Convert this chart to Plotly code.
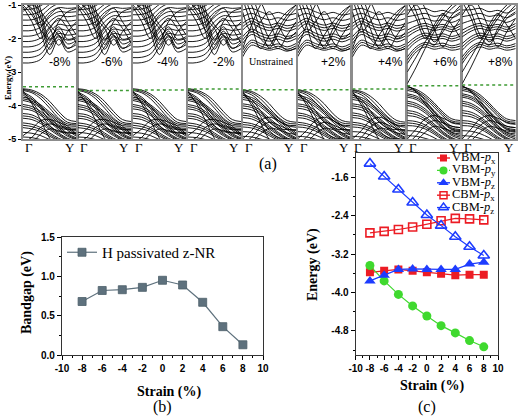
import plotly.graph_objects as go

W, H = 520, 416

# ---------------- data: panel (a) band structures ----------------
strain_labels = ["-8%", "-6%", "-4%", "-2%", "Unstrained", "+2%", "+4%", "+6%", "+8%"]
vbm_levels = [-3.44, -3.55, -3.54, -3.51, -3.53, -3.53, -3.51, -3.41, -3.39]
panel_group = ["A", "A", "A", "A", "B", "B", "B", "C", "C"]
k_points = [0, 1/6, 2/6, 3/6, 4/6, 5/6, 1]

cb_A = [
    [-2.73, -2.72, -2.62, -2.25, -1.95, -2.05, -2.00],
    [-2.57, -2.56, -2.46, -2.10, -1.85, -1.90, -1.86],
    [-2.41, -2.40, -2.30, -1.95, -1.72, -1.76, -1.72],
    [-2.25, -2.24, -2.14, -1.80, -1.58, -1.62, -1.58],
    [-2.09, -2.08, -1.98, -1.65, -1.45, -1.48, -1.45],
    [-1.93, -1.92, -1.82, -1.50, -1.32, -1.35, -1.32],
    [-1.77, -1.76, -1.66, -1.36, -1.20, -1.22, -1.20],
    [-1.61, -1.60, -1.50, -1.22, -1.08, -1.10, -1.08],
    [-1.45, -1.44, -1.34, -1.10, -0.96, -0.98, -0.96],
    [-1.29, -1.28, -1.18, -0.98, -0.85, -0.87, -0.85],
    [-1.13, -1.12, -1.02, -0.86, -0.75, -0.76, -0.75],
    [-0.40, -0.90, -1.80, -2.48, -2.02, -2.40, -2.30],
    [-0.30, -0.70, -1.55, -2.32, -1.90, -2.28, -2.18],
    [-0.20, -0.55, -1.35, -2.18, -1.78, -2.16, -2.06],
    [-0.10, -0.40, -1.15, -2.02, -1.65, -2.02, -1.94],
    [-1.00, -1.30, -1.75, -2.05, -1.50, -1.20, -1.10],
    [-0.90, -1.10, -1.40, -1.70, -2.20, -1.80, -1.50],
    [-1.20, -1.00, -1.20, -1.60, -1.90, -2.30, -2.10],
    [-0.80, -1.20, -1.60, -1.30, -1.10, -1.50, -1.90],
    [-1.05, -1.50, -2.00, -1.70, -1.40, -1.70, -2.15],
]
vb_A = [
    [-3.50, -3.54, -3.66, -3.88, -4.18, -4.42, -4.48],
    [-3.52, -3.58, -3.72, -3.98, -4.28, -4.50, -4.54],
    [-3.55, -3.62, -3.80, -4.08, -4.38, -4.55, -4.58],
    [-3.60, -3.75, -4.02, -4.35, -4.58, -4.66, -4.68],
    [-3.64, -3.80, -4.10, -4.45, -4.66, -4.72, -4.74],
    [-3.56, -3.95, -4.45, -4.98, -5.30, -5.40, -5.40],
    [-3.68, -3.90, -4.25, -4.60, -4.78, -4.80, -4.80],
    [-3.75, -3.82, -3.98, -4.20, -4.42, -4.62, -4.85],
    [-3.80, -3.87, -4.03, -4.25, -4.47, -4.68, -4.88],
    [-3.85, -3.92, -4.08, -4.30, -4.52, -4.74, -4.92],
    [-3.97, -4.03, -4.18, -4.40, -4.62, -4.84, -4.97],
    [-4.03, -4.09, -4.24, -4.45, -4.67, -4.88, -5.00],
    [-4.10, -4.15, -4.30, -4.50, -4.72, -4.92, -5.02],
    [-4.24, -4.28, -4.42, -4.62, -4.82, -4.98, -5.06],
    [-4.31, -4.35, -4.48, -4.67, -4.86, -5.01, -5.08],
    [-4.38, -4.42, -4.54, -4.72, -4.90, -5.04, -5.10],
    [-4.52, -4.56, -4.66, -4.82, -4.98, -5.08, -5.12],
    [-4.59, -4.63, -4.72, -4.87, -5.02, -5.10, -5.14],
    [-4.66, -4.70, -4.78, -4.92, -5.05, -5.12, -5.15],
    [-4.80, -4.83, -4.90, -5.02, -5.12, -5.16, -5.18],
    [-4.94, -4.96, -5.02, -5.10, -5.16, -5.20, -5.20],
    [-4.90, -4.70, -4.45, -4.42, -4.50, -4.60, -4.62],
    [-5.10, -4.95, -4.65, -4.55, -4.62, -4.70, -4.72],
    [-5.20, -5.10, -4.85, -4.70, -4.75, -4.82, -4.84],
]
cb_B = [
    [-2.55, -2.20, -2.28, -2.35, -2.30, -2.38, -2.28],
    [-2.45, -2.12, -2.22, -2.30, -2.23, -2.32, -2.22],
    [-2.35, -2.05, -2.15, -2.22, -2.16, -2.25, -2.15],
    [-2.15, -1.88, -2.00, -2.08, -2.02, -2.10, -2.00],
    [-2.05, -1.80, -1.92, -2.00, -1.94, -2.02, -1.92],
    [-1.95, -1.72, -1.84, -1.92, -1.86, -1.94, -1.85],
    [-1.75, -1.56, -1.68, -1.76, -1.70, -1.78, -1.70],
    [-1.65, -1.48, -1.60, -1.68, -1.62, -1.70, -1.62],
    [-1.55, -1.40, -1.52, -1.60, -1.54, -1.62, -1.55],
    [-1.35, -1.25, -1.36, -1.44, -1.38, -1.46, -1.40],
    [-1.15, -1.10, -1.20, -1.28, -1.22, -1.30, -1.25],
    [-2.30, -1.60, -1.00, -0.60, -0.40, -0.30, -0.20],
    [-0.50, -1.00, -1.70, -2.28, -1.85, -1.40, -1.10],
    [-0.30, -0.70, -1.40, -2.00, -2.30, -1.90, -1.50],
    [-0.80, -1.60, -2.30, -1.90, -1.50, -1.20, -1.00],
    [-1.00, -0.60, -0.90, -1.50, -2.10, -2.35, -2.30],
    [-0.60, -1.30, -2.00, -2.20, -1.70, -1.30, -1.00],
    [-1.20, -1.80, -1.50, -1.20, -1.60, -2.00, -1.80],
]
vb_B = [
    [-3.53, -3.58, -3.72, -3.95, -4.25, -4.45, -4.50],
    [-3.55, -3.62, -3.80, -4.08, -4.35, -4.52, -4.55],
    [-3.58, -3.68, -3.90, -4.20, -4.45, -4.58, -4.60],
    [-3.62, -3.82, -4.15, -4.50, -4.68, -4.72, -4.72],
    [-3.66, -3.90, -4.32, -4.75, -4.95, -5.00, -5.00],
    [-3.58, -3.98, -4.50, -5.02, -5.30, -5.40, -5.40],
    [-3.70, -3.76, -3.92, -4.15, -4.38, -4.60, -4.82],
    [-3.76, -3.82, -3.98, -4.20, -4.44, -4.66, -4.86],
    [-3.82, -3.88, -4.04, -4.26, -4.50, -4.72, -4.90],
    [-3.95, -4.00, -4.15, -4.38, -4.60, -4.82, -4.96],
    [-4.01, -4.06, -4.21, -4.43, -4.65, -4.86, -4.99],
    [-4.08, -4.13, -4.27, -4.48, -4.70, -4.90, -5.02],
    [-4.22, -4.27, -4.40, -4.60, -4.80, -4.97, -5.06],
    [-4.29, -4.33, -4.46, -4.65, -4.84, -5.00, -5.08],
    [-4.36, -4.40, -4.52, -4.70, -4.88, -5.03, -5.10],
    [-4.50, -4.54, -4.64, -4.80, -4.96, -5.08, -5.12],
    [-4.57, -4.60, -4.70, -4.85, -5.00, -5.10, -5.14],
    [-4.64, -4.67, -4.76, -4.90, -5.04, -5.12, -5.15],
    [-4.78, -4.80, -4.88, -5.00, -5.10, -5.16, -5.18],
    [-4.92, -4.94, -5.00, -5.08, -5.15, -5.20, -5.20],
    [-5.00, -4.75, -4.45, -4.35, -4.45, -4.60, -4.65],
    [-5.15, -4.95, -4.65, -4.50, -4.58, -4.70, -4.75],
    [-5.25, -5.10, -4.85, -4.68, -4.72, -4.82, -4.86],
]
cb_C = [
    [-3.35, -2.85, -2.30, -1.80, -1.40, -1.10, -0.90],
    [-3.00, -2.55, -2.10, -1.70, -1.30, -1.00, -0.80],
    [-2.75, -2.40, -2.25, -2.32, -2.28, -2.35, -2.30],
    [-2.65, -2.32, -2.18, -2.25, -2.21, -2.28, -2.22],
    [-2.55, -2.25, -2.12, -2.18, -2.14, -2.22, -2.15],
    [-2.35, -2.10, -1.98, -2.04, -2.00, -2.08, -2.00],
    [-2.25, -2.02, -1.91, -1.97, -1.93, -2.01, -1.92],
    [-2.15, -1.94, -1.84, -1.90, -1.86, -1.94, -1.85],
    [-1.95, -1.78, -1.70, -1.76, -1.72, -1.80, -1.70],
    [-1.85, -1.70, -1.62, -1.69, -1.65, -1.73, -1.62],
    [-1.75, -1.62, -1.55, -1.62, -1.58, -1.66, -1.55],
    [-1.55, -1.46, -1.40, -1.48, -1.44, -1.52, -1.40],
    [-1.35, -1.30, -1.25, -1.34, -1.30, -1.38, -1.25],
    [-1.15, -1.14, -1.10, -1.20, -1.16, -1.24, -1.10],
    [-0.60, -1.20, -1.90, -2.20, -1.70, -1.30, -1.00],
    [-1.00, -0.70, -1.10, -1.70, -2.25, -1.80, -1.40],
    [-0.90, -1.40, -2.00, -1.60, -1.25, -1.60, -2.00],
    [-1.30, -1.00, -1.50, -2.10, -1.80, -1.40, -1.20],
]
vb_C = [
    [-3.40, -3.60, -3.95, -4.30, -4.60, -4.80, -4.85],
    [-3.42, -3.56, -3.85, -4.18, -4.48, -4.70, -4.75],
    [-3.45, -3.52, -3.68, -3.92, -4.20, -4.40, -4.45],
    [-3.50, -3.57, -3.74, -3.98, -4.26, -4.46, -4.50],
    [-3.55, -3.62, -3.80, -4.05, -4.32, -4.52, -4.56],
    [-3.65, -3.72, -3.90, -4.15, -4.42, -4.62, -4.66],
    [-3.70, -3.77, -3.95, -4.20, -4.47, -4.67, -4.72],
    [-3.75, -3.82, -4.00, -4.25, -4.52, -4.72, -4.78],
    [-3.87, -3.94, -4.10, -4.35, -4.62, -4.82, -4.90],
    [-3.93, -4.00, -4.16, -4.40, -4.66, -4.86, -4.95],
    [-4.00, -4.06, -4.22, -4.45, -4.70, -4.90, -5.00],
    [-4.15, -4.20, -4.34, -4.55, -4.78, -4.96, -5.06],
    [-4.22, -4.27, -4.40, -4.60, -4.82, -4.99, -5.08],
    [-4.30, -4.34, -4.46, -4.65, -4.86, -5.02, -5.10],
    [-4.45, -4.48, -4.58, -4.75, -4.94, -5.08, -5.12],
    [-4.52, -4.55, -4.64, -4.80, -4.98, -5.10, -5.14],
    [-4.60, -4.62, -4.70, -4.85, -5.02, -5.12, -5.15],
    [-4.75, -4.77, -4.84, -4.96, -5.10, -5.16, -5.18],
    [-4.90, -4.92, -4.98, -5.06, -5.15, -5.20, -5.20],
    [-5.00, -4.70, -4.40, -4.30, -4.38, -4.50, -4.55],
    [-5.15, -4.90, -4.60, -4.45, -4.52, -4.62, -4.66],
    [-5.25, -5.05, -4.80, -4.62, -4.68, -4.76, -4.80],
]
band_sets = {"A": cb_A + vb_A, "B": cb_B + vb_B, "C": cb_C + vb_C}
kpath_labels = ["Γ", "Y"]
energy_ticks = [-1, -2, -3, -4, -5]

# ---------------- data: panel (b) ----------------
strain = [-8, -6, -4, -2, 0, 2, 4, 6, 8]
bandgap = [0.68, 0.82, 0.83, 0.86, 0.95, 0.89, 0.67, 0.36, 0.13]
strain_ticks = [-10, -8, -6, -4, -2, 0, 2, 4, 6, 8, 10]
bandgap_ticks = [0.0, 0.5, 1.0, 1.5]

# ---------------- data: panel (c) ----------------
vbm_px = [-3.58, -3.55, -3.52, -3.55, -3.58, -3.61, -3.64, -3.63, -3.63]
vbm_py = [-3.44, -3.76, -4.04, -4.28, -4.49, -4.69, -4.84, -5.00, -5.13]
vbm_pz = [-3.76, -3.64, -3.52, -3.51, -3.52, -3.52, -3.52, -3.41, -3.37]
cbm_px = [-2.76, -2.73, -2.69, -2.64, -2.58, -2.51, -2.46, -2.47, -2.49]
cbm_pz = [-1.32, -1.59, -1.86, -2.13, -2.39, -2.61, -2.84, -3.05, -3.23]
energy_c_ticks = [-1.6, -2.4, -3.2, -4.0, -4.8]
series_names = ["VBM-<i>p</i><sub>x</sub>", "VBM-<i>p</i><sub>y</sub>", "VBM-<i>p</i><sub>z</sub>",
                "CBM-<i>p</i><sub>x</sub>", "CBM-<i>p</i><sub>z</sub>"]

# ---------------- styles / layout helpers ----------------
RED, GREEN, BLUE = "#ec1c24", "#3fd92e", "#1d3cff"
series_styles = [
    dict(color=RED, symbol="square", size=8, dash="solid"),
    dict(color=GREEN, symbol="circle", size=9, dash="dot"),
    dict(color=BLUE, symbol="triangle-up", size=10, dash="solid"),
    dict(color=RED, symbol="square-open", size=8, dash="solid"),
    dict(color=BLUE, symbol="triangle-up-open", size=10, dash="solid"),
]
SERIF = "Liberation Serif"
SANS = "Liberation Sans"


def px(x):
    return x / W


def py(y):
    return 1 - y / H


def labels(vals, fmt="{:g}"):
    return [fmt.format(v) for v in vals]


def paper_text(x, y, text, size, family=SERIF, angle=0):
    return dict(x=px(x), y=py(y), xref="paper", yref="paper", text=text, textangle=angle,
                showarrow=False, xanchor="center", yanchor="middle",
                font=dict(family=family, size=size, color="black"))


fig = go.Figure()
layout = dict(template="none", width=W, height=H, margin=dict(l=0, r=0, t=0, b=0, pad=0),
              paper_bgcolor="white", plot_bgcolor="rgba(0,0,0,0)", showlegend=True)
annotations = []

# ---- panel (a) ----
label_pos = [0.70, 0.63, 0.65, 0.67, 0.54, 0.68, 0.71, 0.71, 0.72]
for i in range(9):
    n = i + 1
    xa, ya = f"x{n}", f"y{n}"
    left = 23 + i * 54.9
    right = left + 53.5
    for band in band_sets[panel_group[i]]:
        fig.add_trace(go.Scatter(x=k_points, y=band, mode="lines", xaxis=xa, yaxis=ya,
                                 line=dict(color="black", width=0.9, shape="spline", smoothing=1.0),
                                 showlegend=False, hoverinfo="skip"))
    fig.add_trace(go.Scatter(x=[k_points[0], k_points[-1]], y=[vbm_levels[i], vbm_levels[i]],
                             mode="lines", xaxis=xa, yaxis=ya,
                             line=dict(color="#3f9b35", width=1.5, dash="dot"),
                             showlegend=False, hoverinfo="skip"))
    layout[f"xaxis{n}"] = dict(domain=[px(left), px(right)], range=[0, 1], anchor=ya,
                               showticklabels=False, ticks="", showgrid=False, zeroline=False,
                               automargin=False,
                               showline=True, mirror=True, linecolor="#8c8c8c", linewidth=2)
    layout[f"yaxis{n}"] = dict(domain=[py(139), py(5)], range=[-5, -1], anchor=xa,
                               showgrid=False, zeroline=False, automargin=False,
                               showline=True, mirror=True, linecolor="#8c8c8c", linewidth=2,
                               tickmode="array",
                               tickvals=energy_ticks if i == 0 else [],
                               ticktext=labels(energy_ticks) if i == 0 else [],
                               showticklabels=(i == 0), ticks="outside" if i == 0 else "",
                               ticklen=3, tickcolor="black",
                               tickfont=dict(family=SANS, size=9, color="black", weight="bold"))
    is_unstr = strain_labels[i] == "Unstrained"
    annotations.append(dict(x=label_pos[i], y=-2.70, xref=xa, yref=ya, text=strain_labels[i],
                            showarrow=False, xanchor="center", yanchor="middle",
                            font=dict(family=SERIF if is_unstr else SANS,
                                      size=10 if is_unstr else 12, color="black")))
    annotations.append(dict(x=0, y=py(147), xref=xa, yref="paper", text=kpath_labels[0],
                            showarrow=False, xanchor="left", yanchor="middle",
                            font=dict(family=SERIF, size=13, color="black")))
    annotations.append(dict(x=1, y=py(147), xref=xa, yref="paper", text=kpath_labels[1],
                            showarrow=False, xanchor="right", yanchor="middle",
                            font=dict(family=SERIF, size=13, color="black")))

annotations.append(paper_text(8, 78, "<b>Energy (eV)</b>", 8.5, angle=-90))
annotations.append(paper_text(268, 164, "(a)", 16))

# ---- panel (b) ----
fig.add_trace(go.Scatter(x=strain, y=bandgap, mode="lines+markers", xaxis="x10", yaxis="y10",
                         name="H passivated z-NR",
                         line=dict(color="#5e717d", width=1.2),
                         marker=dict(symbol="square", size=8, color="#5e717d",
                                     line=dict(color="#4d5f6a", width=0.8)),
                         hoverinfo="skip"))
tick_font = dict(family=SANS, size=10, color="black", weight="bold")
common_ax = dict(showgrid=False, zeroline=False, showline=True, mirror=True, automargin=False,
                 linecolor="#333333", linewidth=1.3, tickfont=tick_font, tickangle=0,
                 ticks="outside", ticklen=4, tickcolor="black", tickwidth=1, tickmode="array")
layout["xaxis10"] = dict(domain=[px(62), px(263)], range=[-10, 10], anchor="y10",
                         tickvals=strain_ticks, ticktext=labels(strain_ticks),
                         minor=dict(ticks="outside", ticklen=2, dtick=1, tickcolor="black"),
                         **common_ax)
layout["yaxis10"] = dict(domain=[py(355), py(237)], range=[0, 1.5], anchor="x10",
                         tickvals=bandgap_ticks, ticktext=labels(bandgap_ticks, "{:.1f}"),
                         minor=dict(ticks="outside", ticklen=2, dtick=0.25, tickcolor="black"),
                         **common_ax)
layout["legend"] = dict(x=px(62), y=py(236), xanchor="left", yanchor="top",
                        bgcolor="rgba(0,0,0,0)", font=dict(family=SERIF, size=15, color="black"),
                        itemwidth=30, tracegroupgap=0)
annotations.append(paper_text(27, 293, "<b>Bandgap (eV)</b>", 14, angle=-90))
annotations.append(paper_text(169, 392, "<b>Strain (%)</b>", 14))
annotations.append(paper_text(162, 407, "(b)", 16))

# ---- panel (c) ----
series_values = [vbm_px, vbm_py, vbm_pz, cbm_px, cbm_pz]
for vals, st in zip(series_values, series_styles):
    open_sym = st["symbol"].endswith("open")
    fig.add_trace(go.Scatter(x=strain, y=vals, mode="lines+markers", xaxis="x11", yaxis="y11",
                             line=dict(color=st["color"], width=1.2),
                             marker=dict(symbol=st["symbol"], size=st["size"], color=st["color"],
                                         line=dict(color=st["color"], width=1.6 if open_sym else 0)),
                             showlegend=False, hoverinfo="skip"))
layout["xaxis11"] = dict(domain=[px(355.7), px(498)], range=[-10, 10], anchor="y11",
                         tickvals=strain_ticks, ticktext=labels(strain_ticks),
                         minor=dict(ticks="outside", ticklen=2, dtick=1, tickcolor="black"),
                         **common_ax)
layout["yaxis11"] = dict(domain=[py(355), py(153)], range=[-5.3, -1.1], anchor="x11",
                         tickvals=energy_c_ticks, ticktext=labels(energy_c_ticks, "{:.1f}"),
                         minor=dict(ticks="outside", ticklen=2, dtick=0.4, tickcolor="black"),
                         **common_ax)

# compact legend for (c): a pixel-space overlay axis for the legend glyphs
layout["xaxis12"] = dict(domain=[0, 1], range=[0, W], visible=False, anchor="y12", automargin=False)
layout["yaxis12"] = dict(domain=[0, 1], range=[H, 0], visible=False, anchor="x12", automargin=False)
leg_top, leg_gap = 158, 12.4
for j, (name, st) in enumerate(zip(series_names, series_styles)):
    yy = leg_top + j * leg_gap
    open_sym = st["symbol"].endswith("open")
    fig.add_trace(go.Scatter(x=[437, 450], y=[yy, yy], mode="lines", xaxis="x12", yaxis="y12",
                             line=dict(color=st["color"], width=1.4, dash=st["dash"]),
                             showlegend=False, hoverinfo="skip"))
    fig.add_trace(go.Scatter(x=[443.5], y=[yy], mode="markers", xaxis="x12", yaxis="y12",
                             marker=dict(symbol=st["symbol"], size=st["size"] - 1, color=st["color"],
                                         line=dict(color=st["color"], width=1.5 if open_sym else 0)),
                             showlegend=False, hoverinfo="skip"))
    annotations.append(dict(x=px(451), y=py(yy), xref="paper", yref="paper", text=name,
                            showarrow=False, xanchor="left", yanchor="middle", borderpad=0,
                            font=dict(family=SERIF, size=12.5, color="black")))

annotations.append(paper_text(313, 265, "<b>Energy (eV)</b>", 14, angle=-90))
annotations.append(paper_text(432, 386, "<b>Strain (%)</b>", 14))
annotations.append(paper_text(427, 407, "(c)", 16))

layout["annotations"] = annotations
fig.update_layout(**layout)
fig.write_html("out.html", config={"displayModeBar": False},
               post_script="document.body.style.margin='0';document.body.style.padding='0';"
                           "document.body.style.overflow='hidden';")
